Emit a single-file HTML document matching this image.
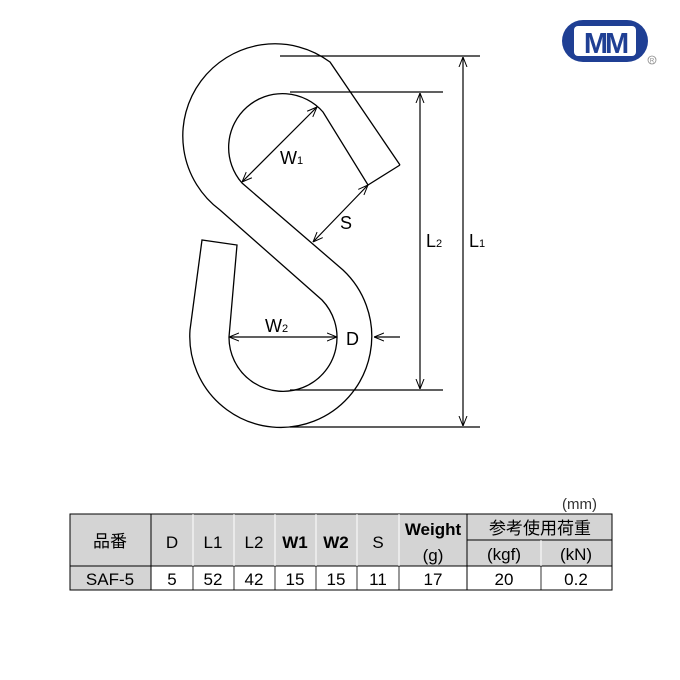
<!DOCTYPE html>
<html><head><meta charset="utf-8"><style>
body{margin:0;background:#fff;width:680px;height:680px;overflow:hidden;font-family:"Liberation Sans","Noto Sans CJK JP",sans-serif}
svg{position:absolute;left:0;top:0}
</style></head><body>
<svg width="680" height="680" viewBox="0 0 680 680" font-family="Liberation Sans, Noto Sans CJK JP, sans-serif">
<defs>
<marker id="a" viewBox="0 0 10 10" refX="10" refY="5" markerWidth="10" markerHeight="10" orient="auto-start-reverse" markerUnits="userSpaceOnUse"><path d="M0,1 L10,5 L0,9" fill="none" stroke="#000" stroke-width="1"/></marker>
</defs>
<g fill="none" stroke="#000" stroke-width="1.3">
<path d="M400,165 L330,62 A91,91 0 0 0 220,210 L322,300 A54,54 1 1 1 229,337 L237,245 L202,240 L190,330 A91,91 0 1 0 343,270 L242,183 A50,50 0 1 1 323,112 L368,185 L400,165"/>
</g>
<g stroke="#000" stroke-width="1.2" fill="none">
<line x1="280" y1="56" x2="480" y2="56"/>
<line x1="290" y1="92" x2="443" y2="92"/>
<line x1="290" y1="390" x2="443" y2="390"/>
<line x1="290" y1="427" x2="480" y2="427"/>
<line x1="463" y1="57" x2="463" y2="426" marker-start="url(#a)" marker-end="url(#a)"/>
<line x1="420" y1="93" x2="420" y2="389" marker-start="url(#a)" marker-end="url(#a)"/>
<line x1="242" y1="182" x2="317" y2="107" marker-start="url(#a)" marker-end="url(#a)"/>
<line x1="313" y1="242" x2="368" y2="185" marker-start="url(#a)" marker-end="url(#a)"/>
<line x1="229" y1="337" x2="337" y2="337" marker-start="url(#a)" marker-end="url(#a)"/>
<line x1="400" y1="337" x2="374" y2="337" marker-end="url(#a)"/>
</g>
<g font-size="18" fill="#000">
<text x="280" y="164">W<tspan font-size="11">1</tspan></text>
<text x="340" y="229">S</text>
<text x="426" y="247">L<tspan font-size="11">2</tspan></text>
<text x="469" y="247">L<tspan font-size="11">1</tspan></text>
<text x="265" y="332">W<tspan font-size="11">2</tspan></text>
<text x="346" y="345">D</text>
</g>
<rect x="562" y="20" width="86" height="42" rx="21" fill="#1f3f94"/>
<rect x="574" y="26" width="62" height="30" rx="4" fill="#fff"/>
<text x="605" y="53" text-anchor="middle" font-size="29" font-weight="bold" fill="#1f3f94" letter-spacing="-3">MM</text>
<circle cx="652" cy="60" r="4" fill="none" stroke="#888" stroke-width="0.8"/>
<text x="652" y="62.5" text-anchor="middle" font-size="6" fill="#888">R</text>
<text x="562" y="509" font-size="15" fill="#333">(mm)</text>
<g>
<rect x="70" y="514" width="542" height="52" fill="#d4d4d4"/>
<rect x="70" y="566" width="81" height="24" fill="#d4d4d4"/>
<g stroke="#000" stroke-width="1" fill="none">
<rect x="70" y="514" width="542" height="76"/>
<line x1="70" y1="566" x2="612" y2="566"/>
<line x1="467" y1="540" x2="612" y2="540"/>
<line x1="151" y1="514" x2="151" y2="590"/>
<line x1="467" y1="514" x2="467" y2="590"/>
</g>
<g stroke="#fff" stroke-width="1">
<line x1="193" y1="514" x2="193" y2="566"/><line x1="234" y1="514" x2="234" y2="566"/>
<line x1="275" y1="514" x2="275" y2="566"/><line x1="316" y1="514" x2="316" y2="566"/>
<line x1="357" y1="514" x2="357" y2="566"/><line x1="399" y1="514" x2="399" y2="566"/>
<line x1="541" y1="540" x2="541" y2="566"/>
</g>
<g stroke="#000" stroke-width="0.8">
<line x1="193" y1="566" x2="193" y2="590"/><line x1="234" y1="566" x2="234" y2="590"/>
<line x1="275" y1="566" x2="275" y2="590"/><line x1="316" y1="566" x2="316" y2="590"/>
<line x1="357" y1="566" x2="357" y2="590"/><line x1="399" y1="566" x2="399" y2="590"/>
<line x1="541" y1="566" x2="541" y2="590"/>
</g>
<g font-size="17" text-anchor="middle" fill="#000">
<text x="110" y="547">品番</text>
<text x="172" y="548">D</text><text x="213" y="548">L1</text><text x="254" y="548">L2</text>
<text x="295" y="548" font-weight="bold">W1</text><text x="336" y="548" font-weight="bold">W2</text>
<text x="378" y="548">S</text>
<text x="433" y="535" font-weight="bold">Weight</text><text x="433" y="561">(g)</text>
<text x="540" y="534">参考使用荷重</text>
<text x="504" y="560">(kgf)</text><text x="576" y="560">(kN)</text>
<text x="110" y="585">SAF-5</text>
<text x="172" y="585">5</text><text x="213" y="585">52</text><text x="254" y="585">42</text>
<text x="295" y="585">15</text><text x="336" y="585">15</text><text x="378" y="585">11</text>
<text x="433" y="585">17</text><text x="504" y="585">20</text><text x="576" y="585">0.2</text>
</g>
</g>
</svg>
</body></html>
